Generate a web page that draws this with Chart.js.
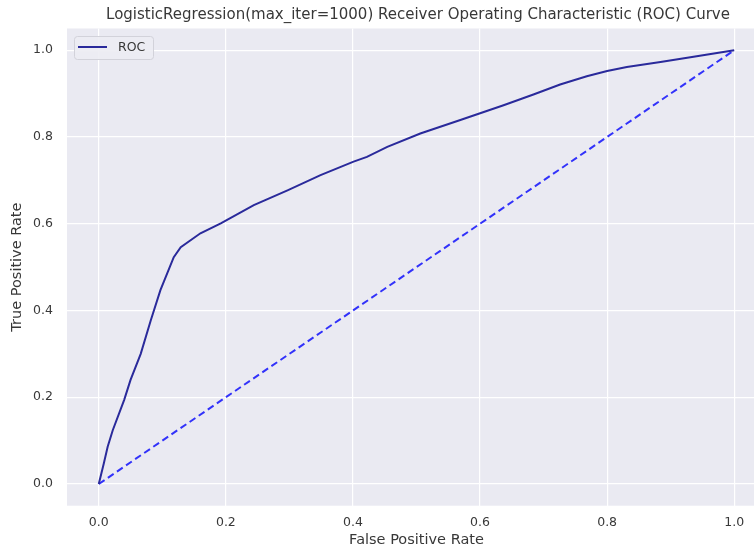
<!DOCTYPE html>
<html lang="en">
<head>
    <meta charset="UTF-8">
    <title>ROC Curve</title>
    <script src="https://cdn.jsdelivr.net/npm/chart.js"></script>
    <style>
        body { margin: 0; background: #fff; overflow: hidden; }
        .grafico { width: 836px; height: 550px; }
    </style>
</head>
<body>
    <div class="grafico"><canvas id="rocChart" width="836" height="550"></canvas></div>

<script>
    // curva ROC (fpr, tpr)
    const fpr = [0, 0.008, 0.014, 0.022, 0.040, 0.050, 0.066, 0.082, 0.097, 0.118, 0.129, 0.160, 0.192,
                 0.244, 0.297, 0.349, 0.401, 0.422, 0.454, 0.506, 0.569, 0.637, 0.684, 0.726, 0.768,
                 0.800, 0.831, 0.884, 0.936, 1.0];
    const tpr = [0, 0.048, 0.086, 0.124, 0.194, 0.240, 0.300, 0.378, 0.447, 0.523, 0.546, 0.578, 0.601,
                 0.643, 0.677, 0.712, 0.743, 0.754, 0.777, 0.808, 0.839, 0.873, 0.898, 0.921, 0.940,
                 0.952, 0.961, 0.973, 0.985, 1.0];
    // linha de referência (classificador aleatório)
    const chanceX = [0, 1];
    const chanceY = [0, 1];

    const xTicks = [0, 0.2, 0.4, 0.6, 0.8, 1.0];
    const yTicks = [0, 0.2, 0.4, 0.6, 0.8, 1.0];

    const fonte = 'DejaVu Sans';
    const corTexto = '#383838';

    // fundo cinza do estilo darkgrid
    const fundo = {
        id: 'fundo',
        beforeDraw(chart) {
            const { ctx, chartArea: a } = chart;
            ctx.save();
            ctx.fillStyle = '#eaeaf2';
            ctx.fillRect(a.left, a.top, a.right - a.left, a.bottom - a.top);
            ctx.restore();
        }
    };

    // legenda dentro do gráfico, no canto superior esquerdo
    const legendaInterna = {
        id: 'legendaInterna',
        afterDatasetsDraw(chart) {
            const { ctx, chartArea: a } = chart;
            const ds = chart.data.datasets[0];
            const x = a.left + 7, y = a.top + 7.5, w = 79, h = 23;
            ctx.save();
            ctx.beginPath();
            ctx.roundRect(x + 0.5, y + 0.5, w, h, 3);
            ctx.fillStyle = 'rgba(236,236,243,0.9)';
            ctx.fill();
            ctx.strokeStyle = '#d2d2da';
            ctx.lineWidth = 1;
            ctx.stroke();
            ctx.beginPath();
            ctx.moveTo(x + 4, y + 11);
            ctx.lineTo(x + 33, y + 11);
            ctx.strokeStyle = ds.borderColor;
            ctx.lineWidth = ds.borderWidth;
            ctx.stroke();
            ctx.fillStyle = corTexto;
            ctx.font = '12.5px ' + fonte;
            ctx.textBaseline = 'middle';
            ctx.fillText(ds.label, x + 44, y + 11.5);
            ctx.restore();
        }
    };

    const pontos = (xs, ys) => xs.map((v, i) => ({ x: v, y: ys[i] }));

    new Chart(document.getElementById('rocChart'), {
        type: 'scatter',
        data: {
            datasets: [{
                label: 'ROC',
                data: pontos(fpr, tpr),
                showLine: true,
                borderColor: 'rgb(42,42,155)',
                borderWidth: 2,
                pointRadius: 0,
                tension: 0
            },
            {
                label: 'Aleatório',
                data: pontos(chanceX, chanceY),
                showLine: true,
                borderColor: 'rgb(50,50,250)',
                borderWidth: 2,
                borderDash: [7, 4],
                pointRadius: 0
            }]
        },
        plugins: [fundo, legendaInterna],
        options: {
            responsive: false,
            animation: false,
            layout: { padding: 0 },
            plugins: {
                legend: { display: false },
                tooltip: { enabled: false },
                title: {
                    display: true,
                    text: 'LogisticRegression(max_iter=1000) Receiver Operating Characteristic (ROC) Curve',
                    color: corTexto,
                    font: { family: fonte, size: 15, weight: 'normal' },
                    padding: { top: 6.5, bottom: 4 }
                }
            },
            scales: {
                x: {
                    type: 'linear',
                    min: -0.05,
                    max: 1.05,
                    afterBuildTicks: s => { s.ticks = xTicks.map(v => ({ value: v })); },
                    afterFit: s => { s.height = 44.3; },
                    ticks: {
                        color: corTexto,
                        font: { family: fonte, size: 12.5 },
                        padding: 10,
                        callback: v => v.toFixed(1)
                    },
                    grid: { color: '#ffffff', lineWidth: 1.2, drawTicks: false },
                    border: { display: false },
                    title: {
                        display: true,
                        text: 'False Positive Rate',
                        color: corTexto,
                        font: { family: fonte, size: 14.5 },
                        padding: { top: 0, bottom: 1 }
                    }
                },
                y: {
                    type: 'linear',
                    min: -0.05,
                    max: 1.05,
                    afterBuildTicks: s => { s.ticks = yTicks.map(v => ({ value: v })); },
                    afterFit: s => { s.width = 67; },
                    ticks: {
                        color: corTexto,
                        font: { family: fonte, size: 12.5 },
                        padding: 14,
                        callback: v => v.toFixed(1)
                    },
                    grid: { color: '#ffffff', lineWidth: 1.2, drawTicks: false },
                    border: { display: false },
                    title: {
                        display: true,
                        text: 'True Positive Rate',
                        color: corTexto,
                        font: { family: fonte, size: 14.5 },
                        padding: { top: 8.5, bottom: 0 }
                    }
                },
                // margem direita vazia, para o título ficar centrado sobre a área do gráfico
                margem: {
                    type: 'linear',
                    position: 'right',
                    afterFit: s => { s.width = 70; },
                    ticks: { display: false },
                    grid: { display: false },
                    border: { display: false }
                }
            }
        }
    });
</script>
</body>
</html>
